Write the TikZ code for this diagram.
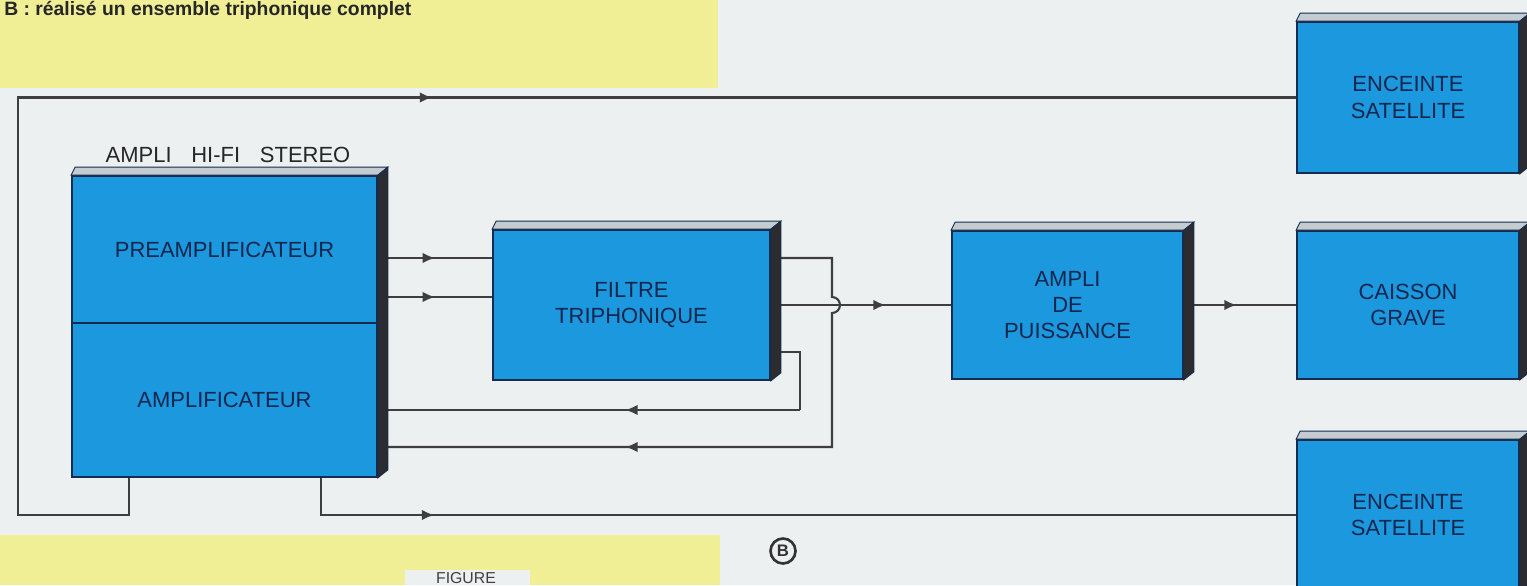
\documentclass[tikz,border=0pt]{standalone}
\usepackage{fontspec}
\setmainfont{Liberation Sans}
\usetikzlibrary{arrows.meta,decorations.markings}
\definecolor{bgc}{RGB}{236,240,241}
\definecolor{yel}{RGB}{241,239,150}
\definecolor{bluef}{RGB}{28,152,222}
\definecolor{bord}{RGB}{22,44,78}
\definecolor{topf}{RGB}{196,204,210}
\definecolor{sidef}{RGB}{44,44,48}
\definecolor{txtc}{RGB}{18,38,78}
\definecolor{wirec}{RGB}{62,62,64}
\newcommand\solidfaces[2]{%
  \filldraw[topf,draw=bord,line width=0.5pt] (#1.north west) -- ([shift={(4,-8)}]#1.north west) -- ([shift={(10,-8)}]#1.north east) -- (#1.north east) -- cycle;
  \filldraw[sidef,draw=bord,line width=0.5pt] (#1.north east) -- ([shift={(10,-8)}]#1.north east) -- ([shift={(10,-8)}]#2.south east) -- (#2.south east) -- cycle;
}
\begin{document}
\begin{tikzpicture}[x=0.02cm,y=-0.02cm,
  blk/.style={draw=bord, line width=1pt, fill=bluef, text=txtc, font=\fontsize{12.5}{15}\selectfont, align=center, inner sep=0pt},
  wire/.style={draw=wirec, line width=1.2pt},
  fl/.style={postaction={decorate}, decoration={markings, mark=at position #1 with {\arrow[wirec]{Latex[length=7pt,width=6pt]}}}}
  ]
\useasboundingbox (0,0) rectangle (1527,585);
\fill[bgc] (0,0) rectangle (1527,585);
\fill[yel] (0,0) rectangle (718,88);
\fill[yel] (0,535) rectangle (720,585);
\fill[bgc] (405,570) rectangle (530,585);

% caption fragments
\node[anchor=north west, inner sep=0pt, text=black!85, font=\bfseries\fontsize{11}{11}\selectfont] (cap) at (4,1) {B : réalisé un ensemble triphonique complet};
\node[anchor=south, inner sep=0pt, text=black!75, font=\fontsize{9}{9}\selectfont] (fig) at (466,584) {FIGURE};

% blocks
\node[blk, minimum width=6.1cm, minimum height=2.94cm] (pre) at (224.5,249.5) {PREAMPLIFICATEUR};
\node[blk, minimum width=6.1cm, minimum height=3.08cm] (amp) at (224.5,400) {AMPLIFICATEUR};
\node[blk, minimum width=5.54cm, minimum height=3.0cm] (fil) at (631.5,305) {FILTRE\\TRIPHONIQUE};
\node[blk, minimum width=4.62cm, minimum height=2.96cm] (pui) at (1067.5,305) {AMPLI\\DE\\PUISSANCE};
\node[blk, minimum width=4.44cm, minimum height=3.02cm] (sat1) at (1408,97.5) {ENCEINTE\\SATELLITE};
\node[blk, minimum width=4.44cm, minimum height=2.96cm] (cai) at (1408,305) {CAISSON\\GRAVE};
\node[blk, minimum width=4.44cm, minimum height=3.0cm] (sat2) at (1408,515) {ENCEINTE\\SATELLITE};

\node[text=black!85, font=\fontsize{12.5}{15}\selectfont, inner sep=0pt] (lblamp) at (228,155) {AMPLI\hspace{0.9em}HI-FI\hspace{0.9em}STEREO};

% connectors
\coordinate (cA) at ([shift={(58,0)}]amp.south west);
\coordinate (cB) at ([shift={(250,0)}]amp.south west);
\coordinate (cL) at (18,515);
\draw[wire] (cA) |- (cL) |- (sat1.west);
\draw[wire, fl=0.324] (cL |- sat1.west) -- (sat1.west);
\draw[wire] (cB) |- (sat2.west);
\draw[wire, fl=0.116] (cB |- sat2.west) -- (sat2.west);

\draw[wire, fl=0.5] (pre.east |- 0,258) -- (fil.west |- 0,258);
\draw[wire, fl=0.5] (pre.east |- 0,297) -- (fil.west |- 0,297);

\coordinate (j1) at (832,258);
\coordinate (j2) at (832,297);
\coordinate (j3) at (832,447);
\draw[wire] (fil.east |- j1) -- (j1) -- (j2) arc[start angle=-90, end angle=90, radius=8] -- (j3) -- (amp.east |- j3);
\draw[wire, fl=0.455] (j3) -- (amp.east |- j3);

\coordinate (k1) at (800,352);
\coordinate (k2) at (800,410);
\draw[wire] (fil.east |- k1) -- (k1) -- (k2);
\draw[wire, fl=0.414] (k2) -- (amp.east |- k2);

\draw[wire, fl=0.637] (fil.east) -- (pui.west);
\draw[wire, fl=0.47] (pui.east) -- (cai.west);

% 3D faces
\solidfaces{pre}{amp}
\solidfaces{fil}{fil}
\solidfaces{pui}{pui}
\solidfaces{sat1}{sat1}
\solidfaces{cai}{cai}
\solidfaces{sat2}{sat2}

\node[circle, draw=black!80, line width=1.5pt, minimum size=0.5cm, inner sep=0pt, text=black!80, font=\bfseries\fontsize{9.5}{9.5}\selectfont] (lbB) at (783,551) {B};
\end{tikzpicture}
\end{document}
